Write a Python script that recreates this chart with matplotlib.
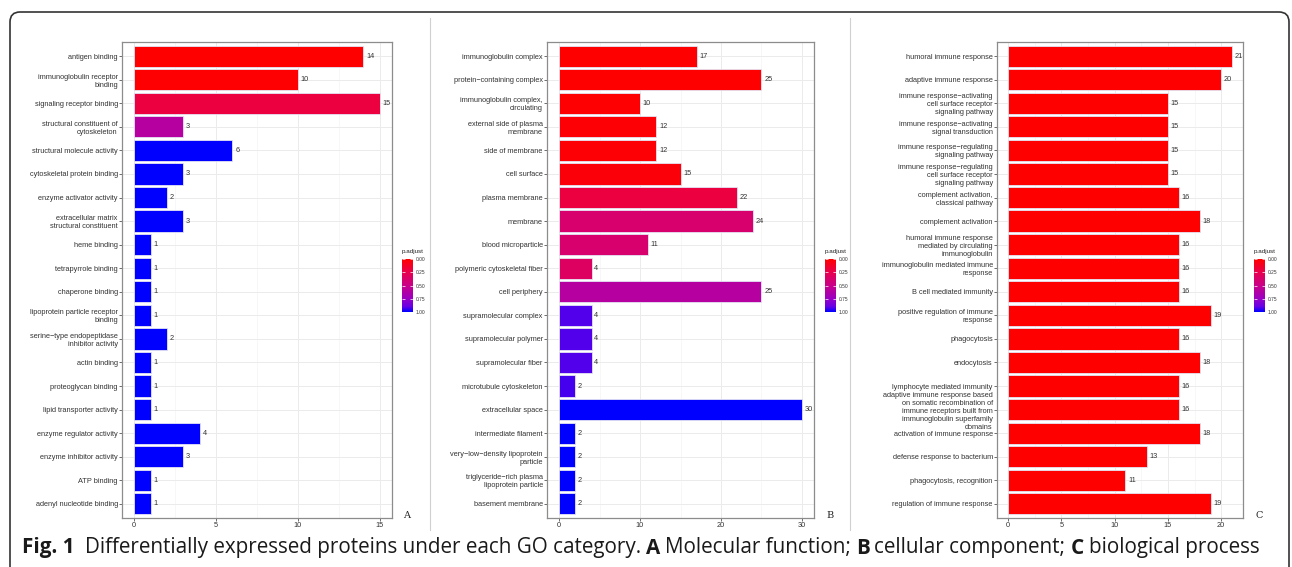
import numpy as np
import matplotlib
matplotlib.use("Agg")
import matplotlib.pyplot as plt
from matplotlib.colors import LinearSegmentedColormap
from matplotlib.patches import FancyBboxPatch
from matplotlib.lines import Line2D

# --- данные ---
labels_a = ["antigen binding", "immunoglobulin receptor\nbinding", "signaling receptor binding",
            "structural constituent of\ncytoskeleton", "structural molecule activity",
            "cytoskeletal protein binding", "enzyme activator activity",
            "extracellular matrix\nstructural constituent", "heme binding", "tetrapyrrole binding",
            "chaperone binding", "lipoprotein particle receptor\nbinding",
            "serine\u2212type endopeptidase\ninhibitor activity", "actin binding",
            "proteoglycan binding", "lipid transporter activity", "enzyme regulator activity",
            "enzyme inhibitor activity", "ATP binding", "adenyl nucleotide binding"]
counts_a = [14, 10, 15, 3, 6, 3, 2, 3, 1, 1, 1, 1, 2, 1, 1, 1, 4, 3, 1, 1]
padj_a = [0.0, 0.01, 0.2, 0.6, 1, 1, 1, 1, 1, 1, 1, 1, 1, 1, 1, 1, 1, 1, 1, 1]

labels_b = ["immunoglobulin complex", "protein\u2212containing complex",
            "immunoglobulin complex,\ncirculating", "external side of plasma\nmembrane",
            "side of membrane", "cell surface", "plasma membrane", "membrane",
            "blood microparticle", "polymeric cytoskeletal fiber", "cell periphery",
            "supramolecular complex", "supramolecular polymer", "supramolecular fiber",
            "microtubule cytoskeleton", "extracellular space", "intermediate filament",
            "very\u2212low\u2212density lipoprotein\nparticle",
            "triglyceride\u2212rich plasma\nlipoprotein particle", "basement membrane"]
counts_b = [17, 25, 10, 12, 12, 15, 22, 24, 11, 4, 25, 4, 4, 4, 2, 30, 2, 2, 2, 2]
padj_b = [0.0, 0.0, 0.01, 0.02, 0.02, 0.03, 0.2, 0.38, 0.38, 0.33, 0.6,
          0.92, 0.92, 0.92, 0.93, 1, 1, 1, 1, 1]

labels_c = ["humoral immune response", "adaptive immune response",
            "immune response\u2212activating\ncell surface receptor\nsignaling pathway",
            "immune response\u2212activating\nsignal transduction",
            "immune response\u2212regulating\nsignaling pathway",
            "immune response\u2212regulating\ncell surface receptor\nsignaling pathway",
            "complement activation,\nclassical pathway", "complement activation",
            "humoral immune response\nmediated by circulating\nimmunoglobulin",
            "immunoglobulin mediated immune\nresponse", "B cell mediated immunity",
            "positive regulation of immune\nresponse", "phagocytosis", "endocytosis",
            "lymphocyte mediated immunity",
            "adaptive immune response based\non somatic recombination of\nimmune receptors built from\nimmunoglobulin superfamily\ndomains",
            "activation of immune response", "defense response to bacterium",
            "phagocytosis, recognition", "regulation of immune response"]
counts_c = [21, 20, 15, 15, 15, 15, 16, 18, 16, 16, 16, 19, 16, 18, 16, 16, 18, 13, 11, 19]
padj_c = [0.0] * 20

xticks_a = [0, 5, 10, 15]
xticks_b = [0, 10, 20, 30]
xticks_c = [0, 5, 10, 15, 20]
cbar_ticks = [0.0, 0.25, 0.5, 0.75, 1.0]

W, H = 1292, 567
FONT = ["Liberation Sans", "DejaVu Sans"]

# градиент красный -> синий (как в ggplot, через Lab)
cmap = LinearSegmentedColormap.from_list(
    "padj", [(0, "#FF0000"), (0.25, "#E8004F"), (0.5, "#C90089"),
             (0.75, "#9A00C3"), (0.9, "#6800E6"), (1, "#0000FF")])

fig = plt.figure(figsize=(W / 100, H / 100), dpi=100)


def px_rect(left, top, right, bottom):
    return [left / W, 1 - bottom / H, (right - left) / W, (bottom - top) / H]


def go_panel(rect, labels, counts, padj, xticks, letter, cbar_left):
    ax = fig.add_axes(px_rect(*rect))
    n = len(labels)
    y = np.arange(n)[::-1]
    ax.barh(y, counts, height=0.9, color=cmap(np.array(padj)),
            edgecolor="#e4e4f4", linewidth=0.6, zorder=3)
    for yi, c in zip(y, counts):
        ax.annotate(str(c), (c, yi), xytext=(2, 0), textcoords="offset points",
                    ha="left", va="center", fontsize=5.3, color="#333333", family=FONT)
    ax.set_yticks(y)
    ax.set_yticklabels(labels, fontsize=5.3, color="#333333", family=FONT)
    ax.set_xticks(xticks)
    ax.set_xticklabels([str(t) for t in xticks], fontsize=5.3, color="#333333", family=FONT)
    step = xticks[1] - xticks[0]
    ax.set_xticks([t + step / 2 for t in xticks[:-1]], minor=True)
    # пределы после тиков, иначе тики их расширяют
    xmax = max(counts)
    ax.set_xlim(-0.05 * xmax, 1.05 * xmax)
    ax.set_ylim(-0.6, n - 0.4)
    ax.grid(True, which="major", color="#ebebeb", linewidth=0.7, zorder=0)
    ax.grid(True, which="minor", axis="x", color="#f2f2f2", linewidth=0.4, zorder=0)
    ax.tick_params(axis="both", which="major", length=2, width=0.5, color="#333333", pad=1)
    ax.tick_params(axis="both", which="minor", length=0)
    for s in ax.spines.values():
        s.set_color("#8c8c8c")
        s.set_linewidth(0.9)
    ax.set_axisbelow(True)

    # колорбар p.adjust
    cax = fig.add_axes(px_rect(cbar_left, 259, cbar_left + 11, 312))
    grad = np.linspace(0, 1, 200).reshape(-1, 1)
    cax.imshow(grad, cmap=cmap, aspect="auto", extent=[0, 1, 1, 0])
    cax.set_xlim(0, 1)
    cax.set_ylim(1, 0)
    cax.set_xticks([])
    cax.set_yticks(cbar_ticks)
    cax.set_yticklabels(["%.2f" % t for t in cbar_ticks], fontsize=3.5, color="#333333", family=FONT)
    cax.tick_params(axis="y", direction="in", color="white", length=2, width=0.5,
                    left=True, right=True, labelleft=False, labelright=True, pad=2)
    for s in cax.spines.values():
        s.set_visible(False)
    fig.text(cbar_left / W, 1 - 252 / H, "p.adjust", fontsize=4.5, color="#222222",
             family=FONT, ha="left", va="center")
    fig.text((cbar_left + 5) / W, 1 - 516 / H, letter, fontsize=7, family="DejaVu Serif",
             ha="center", va="center", color="#222222")
    return ax


go_panel((122, 42, 392, 518), labels_a, counts_a, padj_a, xticks_a, "A", 402)
go_panel((547, 42, 814, 518), labels_b, counts_b, padj_b, xticks_b, "B", 825)
go_panel((997, 42, 1243, 518), labels_c, counts_c, padj_c, xticks_c, "C", 1254)

# рамка и разделители
frame = FancyBboxPatch((10, -30), 1279, 585, boxstyle="round,pad=0,rounding_size=10",
                       transform=None, fill=False, edgecolor="#333333", linewidth=1.2)
fig.patches.append(frame)
for xs in (430, 850):
    fig.add_artist(Line2D([xs / W, xs / W], [1 - 530 / H, 1 - 18 / H],
                          color="#d0d0d0", linewidth=0.8))

# подпись
pieces = [("Fig. 1", "bold", 0), ("Differentially expressed proteins under each GO category.", "normal", 10),
          ("A", "bold", 5), ("Molecular function;", "normal", 5), ("B", "bold", 5),
          ("cellular component;", "normal", 5), ("C", "bold", 5), ("biological process", "normal", 5)]
renderer = fig.canvas.get_renderer()
x = 22
for s, w, gap in pieces:
    x += gap
    t = fig.text(x / W, 1 - 548 / H, s, fontsize=14.85, fontweight=w, family=["Open Sans", "DejaVu Sans"],
                 ha="left", va="center", color="#1a1a1a")
    x += t.get_window_extent(renderer).width

fig.savefig("out.png", dpi=100)
